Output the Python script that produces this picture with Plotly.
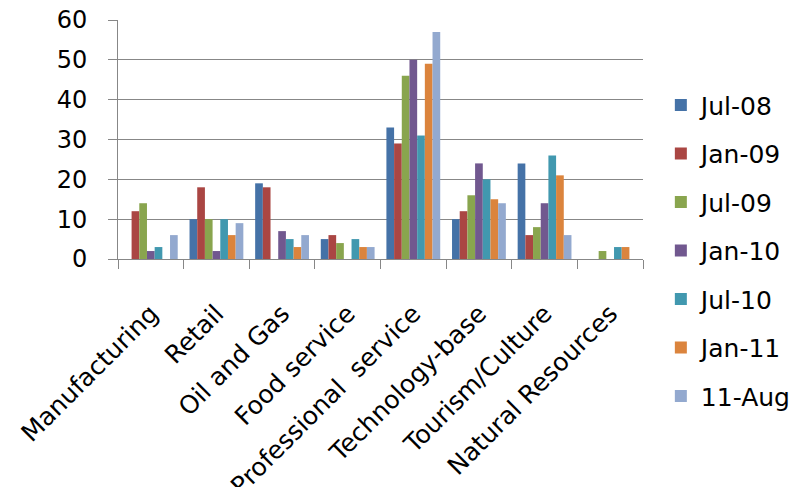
import plotly.graph_objects as go

categories = ["Manufacturing", "Retail", "Oil and Gas", "Food service",
              "Professional  service", "Technology-base", "Tourism/Culture",
              "Natural Resources"]

series_names = ["Jul-08", "Jan-09", "Jul-09", "Jan-10", "Jul-10", "Jan-11", "11-Aug"]

jul_08 = [0, 10, 19, 5, 33, 10, 24, 0]
jan_09 = [12, 18, 18, 6, 29, 12, 6, 0]
jul_09 = [14, 10, 0, 4, 46, 16, 8, 2]
jan_10 = [2, 2, 7, 0, 50, 24, 14, 0]
jul_10 = [3, 10, 5, 5, 31, 20, 26, 3]
jan_11 = [0, 6, 3, 3, 49, 15, 21, 3]
aug_11 = [6, 9, 6, 3, 57, 14, 6, 0]

series_values = [jul_08, jan_09, jul_09, jan_10, jul_10, jan_11, aug_11]
colors = ["#4572A7", "#AA4643", "#89A54E", "#71588F", "#4198AF", "#DB843D", "#93A9CF"]

y_ticks = [0, 10, 20, 30, 40, 50, 60]

FONT = "DejaVu Sans"
GRID = "#878787"

fig = go.Figure()
for name, vals, col in zip(series_names, series_values, colors):
    fig.add_trace(go.Bar(
        x=categories, y=vals, name=name, legendgroup=name,
        marker=dict(color=col, line=dict(width=0)),
    ))

fig.update_layout(
    width=795, height=487,
    margin=dict(l=118, r=152, t=20, b=228, autoexpand=False),
    paper_bgcolor="white", plot_bgcolor="white",
    barmode="group", bargap=0.18, bargroupgap=0,
    font=dict(family=FONT, size=24, color="#000000"),
    showlegend=True,
    legend=dict(
        x=1.034, xanchor="left", y=0.74, yanchor="top",
        font=dict(family=FONT, size=25, color="#000000"),
        tracegroupgap=13, itemclick=False, bgcolor="rgba(0,0,0,0)",
        maxheight=470,
    ),
)

fig.update_yaxes(
    range=[0, 60], tickvals=y_ticks,
    showgrid=True, gridcolor=GRID, gridwidth=1,
    showline=True, linecolor=GRID, linewidth=1,
    ticks="outside", ticklen=9, tickcolor=GRID,
    tickfont=dict(family=FONT, size=24), ticklabelstandoff=16,
    zeroline=False, automargin=False,
)
fig.update_xaxes(
    type="category", tickangle=-45, tickson="boundaries",
    showline=True, linecolor=GRID, linewidth=1,
    ticks="outside", ticklen=9, tickcolor=GRID,
    tickfont=dict(family=FONT, size=25), ticklabelstandoff=29,
    showgrid=False, automargin=False,
)

fig.write_html("out.html")
